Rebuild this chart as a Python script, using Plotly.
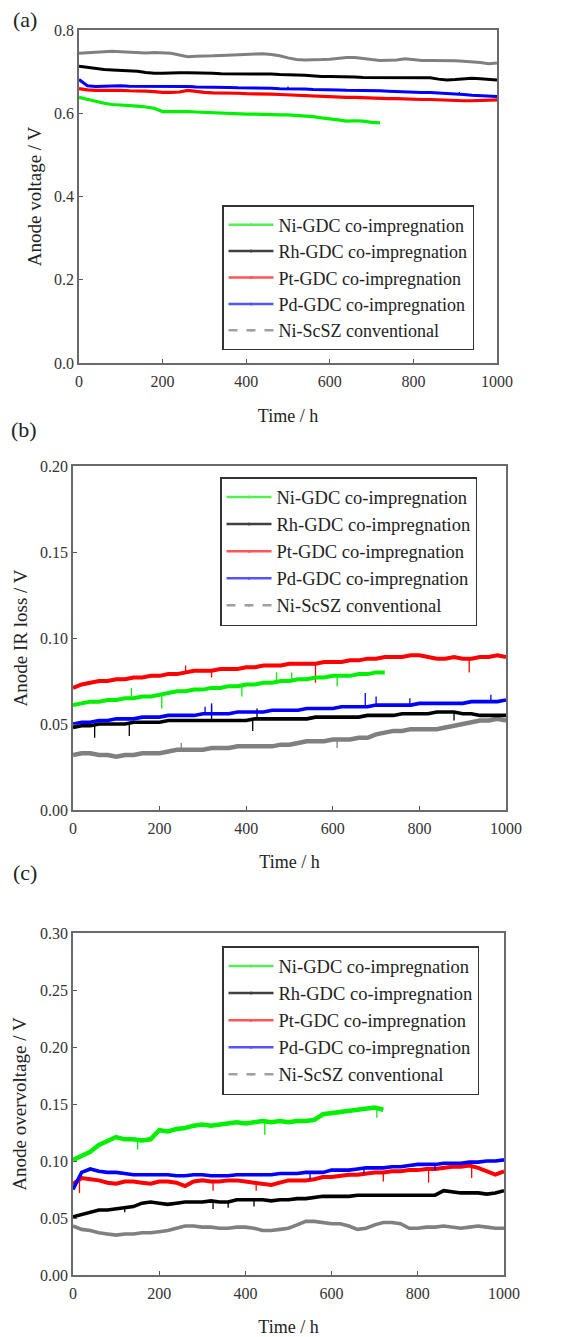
import plotly.graph_objects as go

FONT = "Liberation Serif"

# ---------------- data ----------------
series_names = ["Ni-GDC co-impregnation", "Rh-GDC co-impregnation",
                "Pt-GDC co-impregnation", "Pd-GDC co-impregnation",
                "Ni-ScSZ conventional"]
series_colors = ["#00f000", "#000000", "#ff0000", "#0000ff", "#808080"]
legend_colors = ["#55ee55", "#404040", "#ff5555", "#5555ff", "#a0a0a0"]

t_full = list(range(0, 1001, 20))
t_ni = list(range(0, 721, 20))

# (a) Anode voltage / V
a_ni = [0.638, 0.633, 0.628, 0.624, 0.621, 0.620, 0.618, 0.617, 0.615, 0.612,
        0.604, 0.604, 0.605, 0.604, 0.603, 0.602, 0.601, 0.600, 0.600, 0.599,
        0.598, 0.598, 0.597, 0.596, 0.596, 0.596, 0.595, 0.594, 0.592, 0.589,
        0.587, 0.584, 0.581, 0.582, 0.581, 0.578, 0.577]
a_rh = [0.713, 0.710, 0.707, 0.705, 0.704, 0.703, 0.702, 0.701, 0.698, 0.696,
        0.696, 0.697, 0.697, 0.697, 0.697, 0.697, 0.696, 0.695, 0.695, 0.695,
        0.695, 0.694, 0.694, 0.694, 0.693, 0.693, 0.692, 0.691, 0.689, 0.688,
        0.688, 0.688, 0.687, 0.687, 0.686, 0.686, 0.686, 0.686, 0.686, 0.686,
        0.686, 0.686, 0.685, 0.682, 0.680, 0.681, 0.683, 0.684, 0.683, 0.682,
        0.680]
a_pt = [0.659, 0.656, 0.655, 0.655, 0.656, 0.655, 0.654, 0.654, 0.653, 0.652,
        0.650, 0.650, 0.651, 0.655, 0.652, 0.650, 0.649, 0.649, 0.648, 0.648,
        0.647, 0.647, 0.646, 0.646, 0.645, 0.644, 0.643, 0.642, 0.641, 0.640,
        0.640, 0.639, 0.638, 0.638, 0.637, 0.637, 0.636, 0.635, 0.635, 0.634,
        0.634, 0.633, 0.633, 0.632, 0.631, 0.630, 0.630, 0.630, 0.631, 0.632,
        0.632]
a_pd = [0.681, 0.666, 0.664, 0.665, 0.666, 0.666, 0.665, 0.665, 0.664, 0.664,
        0.664, 0.665, 0.664, 0.664, 0.663, 0.663, 0.662, 0.662, 0.662, 0.661,
        0.661, 0.661, 0.660, 0.660, 0.659, 0.659, 0.658, 0.658, 0.657, 0.657,
        0.656, 0.656, 0.655, 0.655, 0.655, 0.654, 0.654, 0.653, 0.652, 0.652,
        0.651, 0.650, 0.650, 0.649, 0.648, 0.647, 0.645, 0.643, 0.642, 0.641,
        0.640]
a_scsz = [0.744, 0.745, 0.746, 0.748, 0.749, 0.748, 0.747, 0.746, 0.745, 0.746,
          0.745, 0.744, 0.740, 0.736, 0.737, 0.737, 0.738, 0.739, 0.740, 0.741,
          0.741, 0.742, 0.743, 0.741, 0.738, 0.733, 0.729, 0.728, 0.728, 0.729,
          0.730, 0.732, 0.734, 0.734, 0.731, 0.729, 0.727, 0.727, 0.728, 0.731,
          0.729, 0.727, 0.727, 0.727, 0.726, 0.726, 0.725, 0.724, 0.722, 0.719,
          0.721]

# (b) Anode IR loss / V
b_ni = [0.061, 0.062, 0.063, 0.063, 0.064, 0.064, 0.065, 0.065, 0.066, 0.066,
        0.067, 0.068, 0.069, 0.069, 0.070, 0.070, 0.071, 0.071, 0.072, 0.072,
        0.073, 0.073, 0.074, 0.074, 0.075, 0.075, 0.076, 0.076, 0.077, 0.077,
        0.078, 0.078, 0.078, 0.079, 0.079, 0.080, 0.080]
b_rh = [0.048, 0.049, 0.049, 0.050, 0.050, 0.050, 0.050, 0.051, 0.051, 0.051,
        0.051, 0.052, 0.052, 0.052, 0.052, 0.052, 0.052, 0.052, 0.052, 0.052,
        0.052, 0.053, 0.053, 0.053, 0.053, 0.053, 0.053, 0.053, 0.054, 0.054,
        0.054, 0.054, 0.054, 0.054, 0.055, 0.055, 0.055, 0.055, 0.056, 0.056,
        0.056, 0.056, 0.057, 0.057, 0.057, 0.056, 0.056, 0.055, 0.055, 0.055,
        0.055]
b_pt = [0.071, 0.073, 0.074, 0.075, 0.075, 0.076, 0.076, 0.077, 0.077, 0.078,
        0.078, 0.079, 0.079, 0.080, 0.081, 0.081, 0.081, 0.082, 0.082, 0.082,
        0.083, 0.083, 0.084, 0.084, 0.084, 0.085, 0.085, 0.085, 0.085, 0.086,
        0.086, 0.086, 0.087, 0.087, 0.088, 0.088, 0.089, 0.089, 0.089, 0.090,
        0.090, 0.089, 0.088, 0.088, 0.089, 0.088, 0.088, 0.089, 0.089, 0.090,
        0.089]
b_pd = [0.050, 0.051, 0.051, 0.052, 0.052, 0.053, 0.053, 0.053, 0.054, 0.054,
        0.054, 0.055, 0.055, 0.055, 0.055, 0.056, 0.056, 0.056, 0.056, 0.057,
        0.057, 0.057, 0.057, 0.058, 0.058, 0.058, 0.058, 0.059, 0.059, 0.059,
        0.059, 0.060, 0.060, 0.060, 0.060, 0.061, 0.061, 0.061, 0.061, 0.061,
        0.062, 0.062, 0.062, 0.062, 0.062, 0.062, 0.063, 0.063, 0.063, 0.063,
        0.064]
b_scsz = [0.032, 0.033, 0.033, 0.032, 0.032, 0.031, 0.032, 0.032, 0.033, 0.033,
          0.033, 0.034, 0.035, 0.035, 0.035, 0.035, 0.036, 0.036, 0.036, 0.037,
          0.037, 0.037, 0.037, 0.037, 0.038, 0.038, 0.039, 0.040, 0.040, 0.040,
          0.041, 0.041, 0.041, 0.042, 0.042, 0.044, 0.045, 0.046, 0.046, 0.047,
          0.047, 0.047, 0.047, 0.048, 0.049, 0.050, 0.051, 0.052, 0.052, 0.053,
          0.052]

# (c) Anode overvoltage / V
c_ni = [0.101, 0.105, 0.108, 0.114, 0.118, 0.121, 0.119, 0.119, 0.118, 0.119,
        0.127, 0.126, 0.128, 0.129, 0.131, 0.132, 0.131, 0.132, 0.133, 0.134,
        0.133, 0.134, 0.135, 0.134, 0.135, 0.134, 0.135, 0.135, 0.136, 0.141,
        0.142, 0.143, 0.144, 0.145, 0.146, 0.147, 0.145]
c_rh = [0.051, 0.053, 0.055, 0.057, 0.057, 0.058, 0.059, 0.060, 0.063, 0.064,
        0.063, 0.062, 0.063, 0.064, 0.064, 0.064, 0.065, 0.064, 0.064, 0.066,
        0.066, 0.066, 0.066, 0.065, 0.066, 0.066, 0.067, 0.067, 0.068, 0.069,
        0.069, 0.069, 0.069, 0.070, 0.070, 0.070, 0.070, 0.070, 0.070, 0.070,
        0.070, 0.070, 0.070, 0.074, 0.073, 0.072, 0.072, 0.072, 0.071, 0.072,
        0.074]
c_pt = [0.080, 0.085, 0.084, 0.083, 0.081, 0.080, 0.082, 0.082, 0.081, 0.080,
        0.082, 0.082, 0.081, 0.078, 0.082, 0.083, 0.082, 0.082, 0.083, 0.083,
        0.082, 0.081, 0.080, 0.079, 0.081, 0.083, 0.083, 0.083, 0.084, 0.086,
        0.086, 0.087, 0.088, 0.088, 0.089, 0.090, 0.090, 0.091, 0.091, 0.092,
        0.092, 0.093, 0.093, 0.094, 0.095, 0.095, 0.096, 0.094, 0.091, 0.088,
        0.091]
c_pd = [0.075, 0.090, 0.093, 0.091, 0.090, 0.090, 0.089, 0.088, 0.088, 0.088,
        0.088, 0.088, 0.087, 0.087, 0.088, 0.088, 0.087, 0.087, 0.087, 0.088,
        0.088, 0.088, 0.088, 0.088, 0.089, 0.089, 0.089, 0.090, 0.090, 0.090,
        0.092, 0.092, 0.092, 0.093, 0.094, 0.094, 0.094, 0.095, 0.095, 0.096,
        0.097, 0.097, 0.097, 0.098, 0.098, 0.098, 0.099, 0.099, 0.100, 0.100,
        0.101]
c_scsz = [0.043, 0.040, 0.039, 0.037, 0.036, 0.035, 0.036, 0.036, 0.037, 0.037,
          0.038, 0.039, 0.041, 0.043, 0.043, 0.042, 0.042, 0.041, 0.041, 0.042,
          0.042, 0.041, 0.039, 0.039, 0.040, 0.041, 0.044, 0.047, 0.047, 0.046,
          0.045, 0.045, 0.043, 0.040, 0.041, 0.044, 0.046, 0.046, 0.045, 0.041,
          0.041, 0.042, 0.042, 0.043, 0.042, 0.041, 0.042, 0.043, 0.042, 0.041,
          0.041]

# short measurement spikes: (time, from value, to value) per series
b_spikes = {
    0: [(135, 0.066, 0.071), (205, 0.067, 0.059), (390, 0.073, 0.066), (470, 0.074, 0.080), (505, 0.075, 0.080), (610, 0.078, 0.072)],
    1: [(50, 0.050, 0.042), (130, 0.051, 0.043), (320, 0.052, 0.061), (415, 0.053, 0.046), (425, 0.053, 0.059), (880, 0.057, 0.052)],
    2: [(260, 0.080, 0.084), (320, 0.081, 0.077), (560, 0.085, 0.074), (915, 0.088, 0.080)],
    3: [(305, 0.056, 0.060), (320, 0.056, 0.062), (675, 0.060, 0.068), (700, 0.061, 0.066), (778, 0.061, 0.065), (965, 0.063, 0.067)],
    4: [(250, 0.035, 0.039), (610, 0.041, 0.036)],
}
c_spikes = {
    0: [(150, 0.119, 0.110), (445, 0.135, 0.123), (705, 0.146, 0.138)],
    1: [(120, 0.059, 0.055), (325, 0.065, 0.058), (360, 0.064, 0.059), (420, 0.066, 0.060)],
    2: [(15, 0.084, 0.072), (325, 0.082, 0.074), (425, 0.081, 0.074), (720, 0.090, 0.082), (825, 0.093, 0.081), (925, 0.096, 0.085)],
    3: [(550, 0.090, 0.084), (675, 0.094, 0.089), (840, 0.097, 0.092)],
    4: [],
}
a_spikes = {0: [], 1: [], 2: [], 3: [(270, 0.663, 0.668), (500, 0.659, 0.664), (910, 0.647, 0.651)], 4: []}

panels = [
    dict(x=[t_ni, t_full, t_full, t_full, t_full], y=[a_ni, a_rh, a_pt, a_pd, a_scsz],
         spikes=a_spikes, yrange=[0, 0.8], dtick=0.2, fmt=".1f", title="Anode voltage / V",
         lw=[3.2, 3.0, 3.2, 3.0, 3.0]),
    dict(x=[t_ni, t_full, t_full, t_full, t_full], y=[b_ni, b_rh, b_pt, b_pd, b_scsz],
         spikes=b_spikes, yrange=[0, 0.2], dtick=0.05, fmt=".2f", title="Anode IR loss / V",
         lw=[4.0, 3.6, 4.0, 3.6, 4.5]),
    dict(x=[t_ni, t_full, t_full, t_full, t_full], y=[c_ni, c_rh, c_pt, c_pd, c_scsz],
         spikes=c_spikes, yrange=[0, 0.3], dtick=0.05, fmt=".2f", title="Anode overvoltage / V",
         lw=[4.5, 3.6, 4.0, 3.6, 3.6]),
]

# ---------------- layout geometry (pixels in the 579x1337 page) ----------------
OFF = 8                      # default page body margin
W, H = 579 - OFF, 1337 - OFF


def px_x(x):
    return (x - OFF) / W


def px_y(y):
    return 1 - (y - OFF) / H


boxes = [(79, 497, 30, 363), (73, 506, 466, 810), (73, 504, 933, 1275)]
legend_pos = [(222, 205, 18), (220, 477, 18.5), (222, 946, 18.5)]
xtitle_standoff = [20, 19, 20]
ytitle_standoff = [7, 7, 8]
panel_labels = [("(a)", 25, 20), ("(b)", 24, 430), ("(c)", 25, 872)]

fig = go.Figure()
draw_order = [4, 1, 2, 3, 0]
for p, pan in enumerate(panels):
    xa = "x" if p == 0 else f"x{p+1}"
    ya = "y" if p == 0 else f"y{p+1}"
    lg = "legend" if p == 0 else f"legend{p+1}"
    for i in draw_order:
        fig.add_trace(go.Scatter(x=pan["x"][i], y=pan["y"][i], mode="lines",
                                 line=dict(color=series_colors[i], width=pan["lw"][i]),
                                 xaxis=xa, yaxis=ya, showlegend=False, hoverinfo="skip"))
        sx, sy = [], []
        for (tt, v0, v1) in pan["spikes"][i]:
            sx += [tt, tt, None]
            sy += [v0, v1, None]
        if sx:
            fig.add_trace(go.Scatter(x=sx, y=sy, mode="lines",
                                     line=dict(color=series_colors[i], width=1.3),
                                     xaxis=xa, yaxis=ya, showlegend=False, hoverinfo="skip"))
    for i in range(5):
        fig.add_trace(go.Scatter(x=[None], y=[None], mode="lines+markers", name=series_names[i],
                                 line=dict(color=legend_colors[i], width=2.5,
                                           dash="dash" if i == 4 else "solid"),
                                 marker=dict(size=3, color=legend_colors[i]),
                                 xaxis=xa, yaxis=ya, legend=lg, showlegend=True))

axis_common = dict(showline=True, linecolor="#6a6a6a", linewidth=1.5, mirror=True,
                   ticks="inside", ticklen=4, tickwidth=1.3, tickcolor="#555",
                   showgrid=False, zeroline=False, automargin=False,
                   tickfont=dict(family=FONT, size=16, color="#333"))

layout = dict(width=W, height=H, margin=dict(l=0, r=0, t=0, b=0, pad=0, autoexpand=False),
              paper_bgcolor="white", plot_bgcolor="white",
              font=dict(family=FONT, color="#222"))
annotations = []
for p, pan in enumerate(panels):
    x0, x1, y0, y1 = boxes[p]
    sfx = "" if p == 0 else str(p + 1)
    layout["xaxis" + sfx] = dict(axis_common, domain=[px_x(x0), px_x(x1)], range=[0, 1000],
                                 dtick=200, tick0=0, anchor="y" + sfx, ticklabelstandoff=3,
                                 title=dict(text="Time / h", font=dict(family=FONT, size=18, color="#222"),
                                            standoff=xtitle_standoff[p]))
    layout["yaxis" + sfx] = dict(axis_common, domain=[px_y(y1), px_y(y0)], range=pan["yrange"],
                                 dtick=pan["dtick"], tick0=0, tickformat=pan["fmt"], anchor="x" + sfx,
                                 title=dict(text=pan["title"], font=dict(family=FONT, size=19, color="#222"),
                                            standoff=ytitle_standoff[p]))
    lx, ly, lf = legend_pos[p]
    layout["legend" + sfx] = dict(x=px_x(lx), y=px_y(ly), xanchor="left", yanchor="top",
                                  xref="paper", yref="paper",
                                  bgcolor="white", bordercolor="#333", borderwidth=1.5,
                                  font=dict(family=FONT, size=lf, color="#222"),
                                  tracegroupgap=0, itemwidth=45)
    lab, lxp, lyp = panel_labels[p]
    annotations.append(dict(text=lab, x=px_x(lxp), y=px_y(lyp), xref="paper", yref="paper",
                            showarrow=False, xanchor="center", yanchor="middle",
                            font=dict(family=FONT, size=22, color="#222")))
layout["annotations"] = annotations
fig.update_layout(**layout)

fig.write_html("out.html")
